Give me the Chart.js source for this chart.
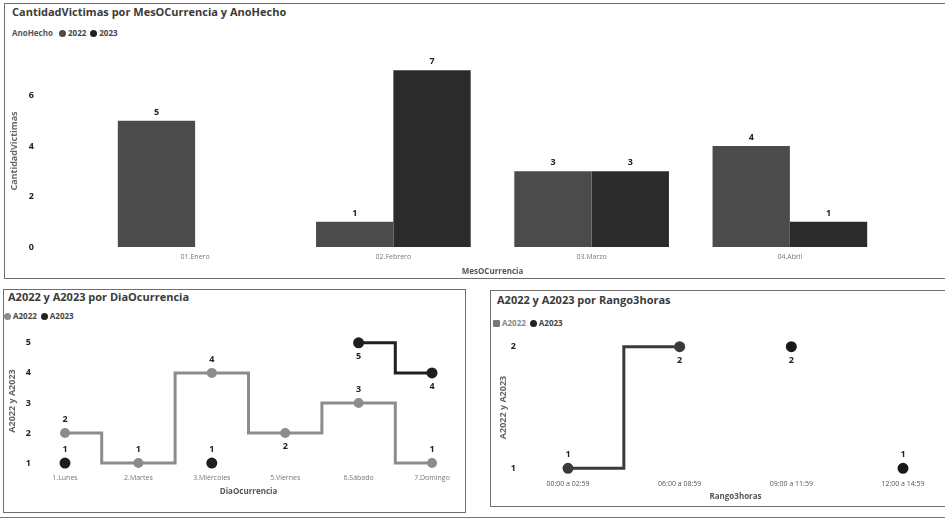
<!DOCTYPE html>
<html>
<head>
<meta charset="utf-8">
<script src="https://cdn.jsdelivr.net/npm/chart.js@4.4.1/dist/chart.umd.min.js"></script>
<style>
body{margin:0;width:945px;height:523px;background:#fff;position:relative;overflow:hidden;font-family:"Open Sans",sans-serif;color:#333}
.panel{position:absolute;border:1.5px solid #6e6e6e;box-sizing:border-box}
.title{position:absolute;font-size:11px;font-weight:bold;color:#3a3a3a;white-space:nowrap;line-height:12px}
.legend{position:absolute;font-size:8px;font-weight:bold;color:#444;white-space:nowrap;line-height:10px}
.dot{display:inline-block;width:7px;height:7px;border-radius:50%;margin:0 2px 0 4px;vertical-align:-1px}
canvas{position:absolute}
.rule{position:absolute;left:0;top:517px;width:945px;height:0;border-top:1.5px solid #777}
</style>
</head>
<body>
<div class="panel" style="left:4px;top:3px;width:950px;height:276px"></div>
<div class="panel" style="left:3px;top:289px;width:463px;height:224px"></div>
<div class="panel" style="left:490px;top:290px;width:460px;height:217px"></div>
<div class="rule"></div>

<div class="title" style="left:12px;top:6px">CantidadVictimas por MesOCurrencia y AnoHecho</div>
<div class="legend" style="left:12px;top:28px"><span style="color:#555">AnoHecho</span> <span class="dot" style="background:#4b4b4b"></span>2022<span class="dot" style="background:#222"></span>2023</div>

<div class="title" style="left:8px;top:291px">A2022 y A2023 por DiaOcurrencia</div>
<div class="legend" style="left:4px;top:311px"><span class="dot" style="background:#8c8c8c;margin-left:0"></span>A2022<span class="dot" style="background:#222"></span>A2023</div>

<div class="title" style="left:497px;top:294px">A2022 y A2023 por Rango3horas</div>
<div class="legend" style="left:493px;top:318px"><span class="dot" style="background:#777;border-radius:1px;margin-left:0"></span><span style="color:#888">A2022</span><span class="dot" style="background:#222"></span>A2023</div>

<canvas id="c1" width="940" height="232" style="left:5px;top:45px;width:940px;height:232px"></canvas>
<canvas id="c2" width="458" height="185" style="left:5px;top:325px;width:458px;height:185px"></canvas>
<canvas id="c3" width="453" height="175" style="left:492px;top:330px;width:453px;height:175px"></canvas>

<script>
// datos del tablero
const meses = ['01.Enero', '02.Febrero', '03.Marzo', '04.Abril'];
const victimas2022 = [5, 1, 3, 4];
const victimas2023 = [null, 7, 3, 1];
const ticksMes = [0, 2, 4, 6];

const dias = ['1.Lunes', '2.Martes', '3.Miércoles', '5.Viernes', '6.Sábado', '7.Domingo'];
const diaA2022 = [2, 1, 4, 2, 3, 1];
const diaA2023 = [1, null, 1, null, 5, 4];
const ticksDia = [1, 2, 3, 4, 5];

const rangos = ['00:00 a 02:59', '06:00 a 08:59', '09:00 a 11:59', '12:00 a 14:59'];
const rangoA2022 = [1, 2, null, null];
const rangoA2023 = [null, null, 2, 1];
const ticksRango = [1, 2];

// etiquetas de valor, 'b' = debajo del punto
const valueLabels = {
  id: 'valueLabels',
  afterDatasetsDraw(chart, args, opts) {
    const ctx = chart.ctx;
    ctx.save();
    ctx.font = 'bold 9px "Open Sans"';
    ctx.fillStyle = '#222';
    ctx.textAlign = 'center';
    chart.data.datasets.forEach((ds, i) => {
      const meta = chart.getDatasetMeta(i);
      const pos = (opts.positions && opts.positions[i]) || [];
      meta.data.forEach((el, j) => {
        const v = ds.data[j];
        if (v == null) return;
        const below = pos[j] === 'b';
        ctx.textBaseline = below ? 'top' : 'bottom';
        ctx.fillText(String(v), el.x, el.y + (below ? opts.offset : -opts.offset));
      });
    });
    ctx.restore();
  }
};

Chart.defaults.font.family = '"Open Sans", sans-serif';
Chart.defaults.animation = false;

function yAxis(ticks, min, max, width, pad, titlePad) {
  return {
    min: min, max: max,
    grid: {display: false, drawTicks: false}, border: {display: false},
    afterBuildTicks(s) { s.ticks = ticks.map(v => ({value: v})); },
    // ancho fijo, sin el relleno vertical que agrega ticks.padding
    afterFit(s) { s.width = width; s.paddingTop = 0; s.paddingBottom = 0; },
    ticks: {font: {size: 9, weight: 'bold'}, color: '#222', padding: pad},
    title: {display: true, font: {size: 9, weight: 'bold'}, color: '#666', padding: {top: titlePad, bottom: 0}}
  };
}
function xAxis(text, height, pad, titlePad) {
  return {
    grid: {display: false, drawTicks: false}, border: {display: false},
    afterFit(s) { s.height = height; },
    ticks: {font: {size: 7}, color: '#777', padding: pad, maxRotation: 0, autoSkip: false},
    title: {display: true, text: text, font: {size: 8, weight: 'bold'}, color: '#555', padding: {top: 0, bottom: titlePad}}
  };
}

// barras por mes
const y1 = yAxis(ticksMes, 0, 7.6, 91, 62, 4);
y1.title.text = 'CantidadVictimas';
new Chart(document.getElementById('c1'), {
  type: 'bar',
  data: {
    labels: meses,
    datasets: [
      {label: '2022', data: victimas2022, backgroundColor: '#4b4b4b', categoryPercentage: 0.78, barPercentage: 1},
      {label: '2023', data: victimas2023, backgroundColor: '#2b2b2b', categoryPercentage: 0.78, barPercentage: 1}
    ]
  },
  options: {
    responsive: false,
    layout: {padding: {top: 10, right: 56, left: 0, bottom: 0}},
    plugins: {legend: {display: false}, tooltip: {enabled: false}, valueLabels: {offset: 4}},
    scales: {x: xAxis('MesOCurrencia', 30, 6, 0), y: y1}
  },
  plugins: [valueLabels]
});

// lineas escalonadas por dia
const y2 = yAxis(ticksDia, 0.77, 5.36, 60, 34, 2);
y2.title.text = 'A2022 y A2023';
const x2 = xAxis('DiaOcurrencia', 40, 4, 13);
x2.offset = false;
new Chart(document.getElementById('c2'), {
  type: 'line',
  data: {
    labels: dias,
    datasets: [
      {label: 'A2022', data: diaA2022, borderColor: '#8c8c8c', backgroundColor: '#8c8c8c', borderWidth: 3,
       pointRadius: 3.5, stepped: 'middle', clip: false},
      {label: 'A2023', data: diaA2023, borderColor: '#1f1f1f', backgroundColor: '#1f1f1f', borderWidth: 3,
       pointRadius: 4, stepped: 'middle', clip: false}
    ]
  },
  options: {
    responsive: false,
    layout: {padding: {top: 5, right: 31, left: 0, bottom: 0}},
    plugins: {legend: {display: false}, tooltip: {enabled: false},
      valueLabels: {offset: 9, positions: [['a', 'a', 'a', 'b', 'a', 'a'], ['a', 'a', 'a', 'a', 'b', 'b']]}},
    scales: {x: x2, y: y2}
  },
  plugins: [valueLabels]
});

// lineas por rango de 3 horas
const y3 = yAxis(ticksRango, 0.92, 2.08, 76, 52, 6);
y3.title.text = 'A2022 y A2023';
const x3 = xAxis('Rango3horas', 27, 2, 3);
x3.offset = false;
x3.ticks.color = '#555';
new Chart(document.getElementById('c3'), {
  type: 'line',
  data: {
    labels: rangos,
    datasets: [
      {label: 'A2022', data: rangoA2022, borderColor: '#3a3a3a', backgroundColor: '#3a3a3a', borderWidth: 3,
       pointRadius: 4, stepped: 'middle', clip: false},
      {label: 'A2023', data: rangoA2023, borderColor: '#1a1a1a', backgroundColor: '#1a1a1a', borderWidth: 3,
       pointRadius: 4, showLine: false, clip: false}
    ]
  },
  options: {
    responsive: false,
    layout: {padding: {top: 3, right: 42, left: 0, bottom: 0}},
    plugins: {legend: {display: false}, tooltip: {enabled: false},
      valueLabels: {offset: 9, positions: [['a', 'b'], ['a', 'a', 'b', 'a']]}},
    scales: {x: x3, y: y3}
  },
  plugins: [valueLabels]
});
</script>
</body>
</html>
